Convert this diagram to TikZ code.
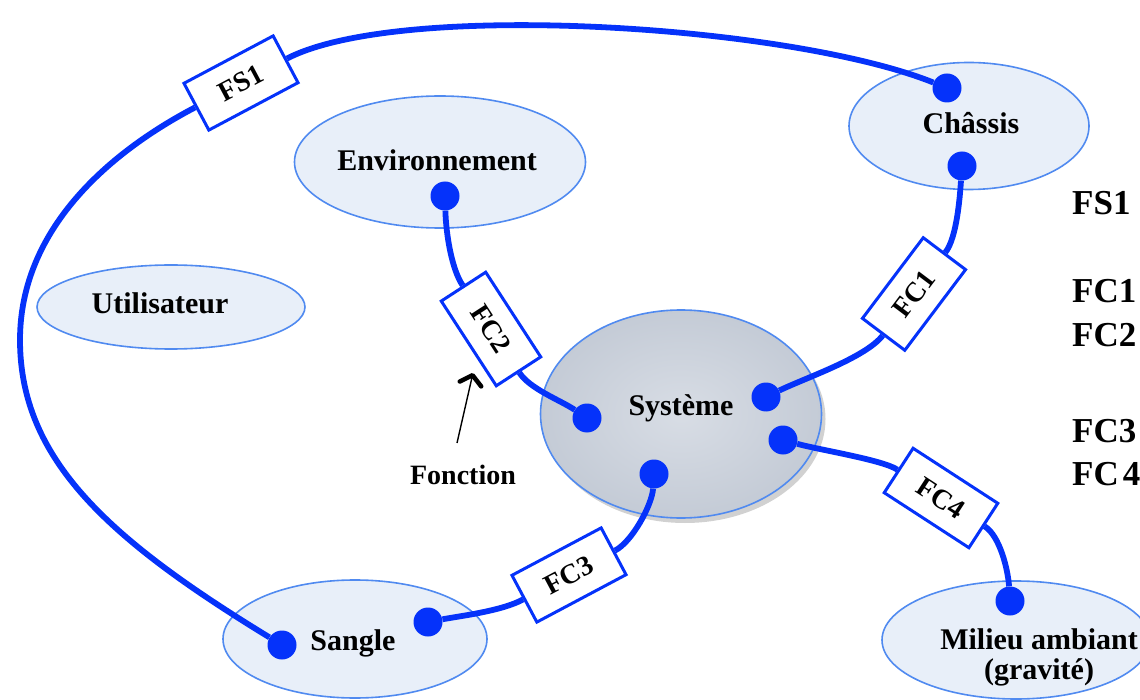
\documentclass[tikz,border=0pt]{standalone}
\usepackage{fontspec}
\setmainfont{Liberation Serif}
\usetikzlibrary{shapes.geometric,arrows.meta,shadows}

\definecolor{wireblue}{RGB}{5,50,250}
\definecolor{rimblue}{RGB}{80,138,240}
\definecolor{paleblue}{RGB}{232,239,249}
\definecolor{sysin}{RGB}{216,221,229}
\definecolor{sysout}{RGB}{196,203,214}

\pgfdeclarelayer{bg}
\pgfdeclarelayer{wires}
\pgfsetlayers{bg,wires,main}

\begin{document}
\begin{tikzpicture}[x=1pt,y=-1pt,
  actor/.style={ellipse, draw=rimblue, line width=1.6pt, fill=paleblue, inner sep=0pt},
  actorlabel/.style={font=\bfseries\fontsize{30}{30}\selectfont, align=center, inner sep=0pt},
  fnbox/.style={rectangle, draw=wireblue, line width=3pt, fill=white,
    minimum width=101pt, minimum height=53pt, inner sep=0pt,
    font=\bfseries\fontsize{28}{30}\selectfont},
  jack/.style={circle, fill=wireblue, minimum size=29pt, inner sep=0pt},
  link/.style={draw=wireblue, line width=5.8pt},
  keytext/.style={anchor=base west, font=\bfseries\fontsize{35}{38}\selectfont, inner sep=0pt}]

\useasboundingbox (0,0) rectangle (1140,700);

% --- actors of the environment
\begin{pgfonlayer}{bg}
  \node[actor, minimum width=240pt, minimum height=127pt] (chassis) at (969,126) {};
  \node[actor, minimum width=291pt, minimum height=132pt] (env) at (440,162) {};
  \node[actor, minimum width=268pt, minimum height=84pt] (user) at (171,307) {};
  \node[actor, minimum width=264pt, minimum height=118pt] (sangle) at (355,639) {};
  \node[actor, minimum width=268pt, minimum height=118pt] (milieu) at (1016,640) {};
  \node[ellipse, draw=rimblue, line width=1.6pt, inner sep=0pt,
        minimum width=281pt, minimum height=208pt,
        inner color=sysin, outer color=sysout,
        drop shadow={shadow xshift=4pt, shadow yshift=-5pt, opacity=0.3, fill=black!60}]
        (sys) at (681,414) {};
\end{pgfonlayer}

\node[actorlabel, anchor=base] (chassisT) at (971,134) {Châssis};
\node[actorlabel, anchor=base] (envT) at (437,171) {Environnement};
\node[actorlabel, anchor=base] (userT) at (160,314) {Utilisateur};
\node[actorlabel, anchor=base] (sysT) at (681,415) {Système};
\node[actorlabel, anchor=base] (sangleT) at (353,650) {Sangle};
\node[actorlabel] (milieuT) at (1039,657) {Milieu ambiant\\(gravité)};

% --- function boxes
\node[fnbox, rotate=28] (fs1) at (241,83) {FS1};
\node[fnbox, rotate=53] (fc1) at (914,294) {FC1};
\node[fnbox, rotate=-57] (fc2) at (491,329) {FC2};
\node[fnbox, rotate=28] (fc3) at (569,575) {FC3};
\node[fnbox, rotate=-33] (fc4) at (941,498) {FC4};

% --- connection points
\node[jack] (jChTop) at (947,88) {};
\node[jack] (jChBot) at (962,166) {};
\node[jack] (jEnv) at (445,196) {};
\node[jack] (jSysL) at (587,418) {};
\node[jack] (jSysR1) at (766,397) {};
\node[jack] (jSysR2) at (783,440) {};
\node[jack] (jSysB) at (654,474) {};
\node[jack] (jSaL) at (282,645) {};
\node[jack] (jSaR) at (428,622) {};
\node[jack] (jMil) at (1010,601) {};

% --- links
\begin{pgfonlayer}{wires}
  \draw[link] (fs1.east) .. controls (400,0) and (790,25) .. (jChTop);
  \draw[link] (fs1.west) .. controls (108,153) and (20,230) .. (20,340)
                         .. controls (20,460) and (110,540) .. (jSaL);
  \draw[link] (jChBot) .. controls (960,195) and (957,238) .. (fc1.east);
  \draw[link] (fc1.west) .. controls (865,358) and (805,378) .. (jSysR1);
  \draw[link] (jEnv) .. controls (446,235) and (452,270) .. (fc2.west);
  \draw[link] (fc2.east) .. controls (530,389) and (560,400) .. (jSysL);
  \draw[link] (jSysB) .. controls (652,505) and (632,542) .. (fc3.east);
  \draw[link] (fc3.west) .. controls (502,611) and (460,616) .. (jSaR);
  \draw[link] (jSysR2) .. controls (820,450) and (883,460) .. (fc4.west);
  \draw[link] (fc4.east) .. controls (1000,536) and (1008,570) .. (jMil);
\end{pgfonlayer}

% --- annotation
\node[actorlabel, font=\bfseries\fontsize{28}{30}\selectfont, anchor=base] (fonction) at (463,484) {Fonction};
\coordinate (ftail) at (457,443);
\coordinate (ftip) at (473,373);
\draw[line width=1.4pt, -{Straight Barb[length=9pt,width=22pt,line width=4.5pt,round]}] (ftail) -- (ftip);

% --- key on the right
\node[keytext] (kFS1) at (1072,215) {FS1};
\node[keytext] (kFC1) at (1072,303) {FC1};
\node[keytext] (kFC2) at (1072,347) {FC2};
\node[keytext] (kFC3) at (1072,442) {FC3};
\node[keytext] (kFC4) at (1072,485) {\spaceskip=4pt FC 4};

\end{tikzpicture}
\end{document}
